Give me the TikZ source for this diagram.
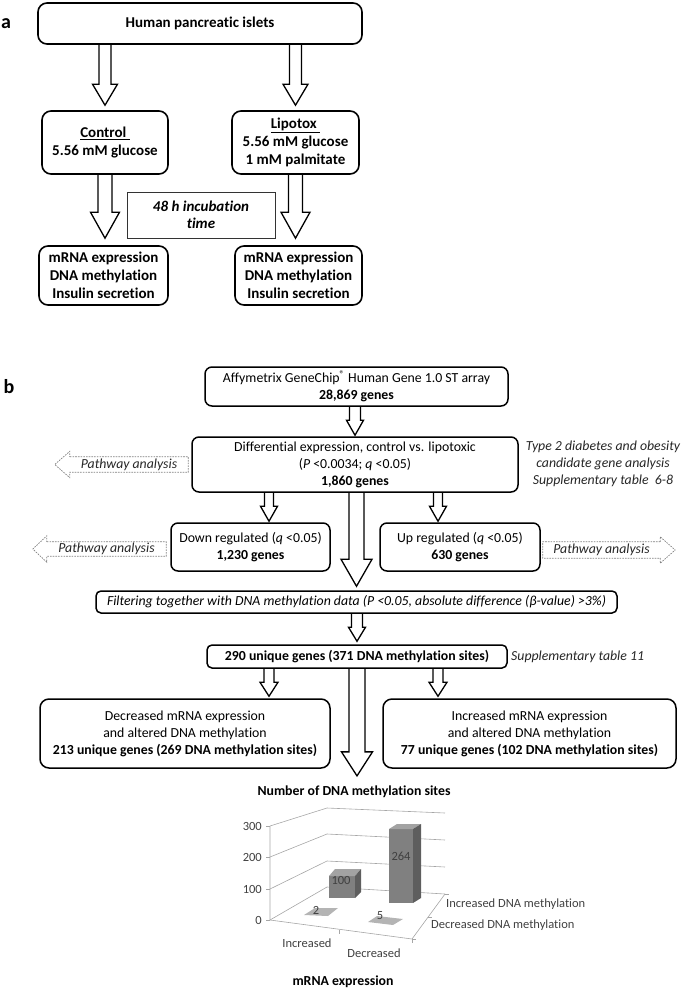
\documentclass[tikz,border=0pt]{standalone}
\usepackage{fontspec}
\setmainfont{Carlito}[Ligatures=NoCommon]
\usetikzlibrary{calc,backgrounds}
\definecolor{ink}      {HTML}{000000}
\definecolor{gridgray} {HTML}{A6A6A6}
\definecolor{dashgray} {HTML}{808080}
\definecolor{barfront} {HTML}{808080}
\definecolor{bartop}   {HTML}{A3A3A3}
\definecolor{barside}  {HTML}{5E5E5E}
\definecolor{tilegray} {HTML}{B4B4B4}
\definecolor{chartink} {HTML}{404040}
\tikzset{
  every node/.style={font=\fontsize{13.8}{17}\selectfont},
  % --- nodes
  panel/.style  = {inner sep=0pt, font=\fontsize{20}{24}\selectfont\bfseries},
  box/.style    = {draw=ink, line width=1.5pt, rounded corners=7pt, align=center, inner sep=0pt},
  boxa/.style   = {box, line width=1.6pt, rounded corners=9pt, font=\fontsize{15}{18}\selectfont\bfseries},
  timebox/.style= {draw=ink!80, line width=0.8pt, align=center, inner sep=0pt,
                   font=\fontsize{15}{17}\selectfont\bfseries\itshape},
  note/.style   = {align=center, inner sep=0pt, text=ink!85, font=\fontsize{13.8}{17}\selectfont\itshape},
  pwtext/.style = {inner sep=0pt, text=ink!85, font=\fontsize{13.8}{17}\selectfont\itshape},
  axlbl/.style  = {inner sep=0pt, text=chartink, font=\fontsize{12.5}{15}\selectfont},
  ctitle/.style = {inner sep=0pt, font=\fontsize{13.8}{17}\selectfont\bfseries},
  % --- edges
  fatarr/.style = {draw=ink, line width=1.3pt, fill=white, line join=miter},
  pwline/.style = {draw=dashgray, line width=0.7pt, dash pattern=on 1.6pt off 1.1pt},
  grid/.style   = {draw=gridgray, line width=0.6pt},
}
% from, to, column, gap, half shaft, half head, head length
\newcommand{\fatarrow}[7]{%
  \path (#1.south -| #3) coordinate (fa-s) (#2.north -| #3) coordinate (fa-e);
  \begin{scope}[on background layer]
    \draw[fatarr] ($(fa-s)+(-#5,0)$) -- ($(fa-e)+(-#5,-#4-#7)$) -- ($(fa-e)+(-#6,-#4-#7)$)
      -- ($(fa-e)+(0,-#4)$) -- ($(fa-e)+(#6,-#4-#7)$) -- ($(fa-e)+(#5,-#4-#7)$) -- ($(fa-s)+(#5,0)$);
  \end{scope}}
% node, head length, head extend
\newcommand{\pwleft}[3]{%
  \draw[pwline] (#1.north west) -- (#1.north east) -- (#1.south east) -- (#1.south west)
    -- ++(0,#3) -- ($(#1.west)+(-#2,0)$) -- ($(#1.north west)+(0,-#3)$) -- cycle;}
\newcommand{\pwright}[3]{%
  \draw[pwline] (#1.north east) -- (#1.north west) -- (#1.south west) -- (#1.south east)
    -- ++(0,#3) -- ($(#1.east)+(#2,0)$) -- ($(#1.north east)+(0,-#3)$) -- cycle;}

\begin{document}
\begin{tikzpicture}[x=1pt, y=-1pt]
  \useasboundingbox (0,0) rectangle (685,990);

  % panel a
  \node[panel] (pa) at (6,24) {a};
  \node[boxa, minimum width=324pt, minimum height=41pt] (islets) at (200,23.5) {Human pancreatic islets};
  \node[boxa, minimum width=126pt, minimum height=63pt] (ctrl) at (105,142.5) {\underline{Control\ }\\5.56 mM glucose};
  \node[boxa, minimum width=127pt, minimum height=63pt] (lipo) at (295.5,142.5) {\underline{Lipotox\ }\\5.56 mM glucose\\1 mM palmitate};
  \node[timebox, minimum width=148pt, minimum height=46pt] (incub) at (201,215) {48 h incubation\\time};
  \node[boxa, minimum width=129pt, minimum height=59pt] (outc) at (103.5,275.5) {mRNA expression\\DNA methylation\\Insulin secretion};
  \node[boxa, minimum width=127pt, minimum height=59pt] (outl) at (298.5,275.5) {mRNA expression\\DNA methylation\\Insulin secretion};

  \fatarrow{islets}{ctrl}{ctrl}{5}{6}{12.5}{21}
  \fatarrow{islets}{lipo}{lipo}{5}{6}{12.5}{21}
  \fatarrow{ctrl}{outc}{ctrl}{7}{7}{14.5}{26}
  \fatarrow{lipo}{outl}{lipo}{7}{7}{14.5}{26}

  % panel b
  \node[panel] (pb) at (9,387) {b};
  \coordinate (colL) at (269,0);
  \coordinate (colR) at (438,0);
  \node[box, minimum width=303pt, minimum height=39pt] (affy) at (356.5,386.5)
    {Affymetrix GeneChip\textsuperscript{®} Human Gene 1.0 ST array\\\textbf{28,869 genes}};
  \node[box, minimum width=326pt, minimum height=55pt] (diff) at (355,464.5)
    {Differential expression, control vs. lipotoxic\\(\textit{P} <0.0034; \textit{q} <0.05)\\\textbf{1,860 genes}};
  \node[box, minimum width=159pt, minimum height=48pt] (down) at (250.5,547)
    {Down regulated (\textit{q} <0.05)\\\textbf{1,230 genes}};
  \node[box, minimum width=160pt, minimum height=48pt] (up) at (460,547)
    {Up regulated (\textit{q} <0.05)\\\textbf{630 genes}};
  \node[box, rounded corners=5pt, minimum width=521pt, minimum height=22pt] (filter) at (356.5,602)
    {\itshape Filtering together with DNA methylation data (P <0.05, absolute difference (β-value) >3\%)};
  \node[box, rounded corners=5pt, minimum width=300pt, minimum height=23pt, font=\fontsize{13.8}{17}\selectfont\bfseries] (uniq) at (357,656.5)
    {290 unique genes (371 DNA methylation sites)};
  \node[box, rounded corners=9pt, minimum width=290pt, minimum height=69pt] (decr) at (185,733.5)
    {Decreased mRNA expression\\and altered DNA methylation\\\textbf{213 unique genes (269 DNA methylation sites)}};
  \node[box, rounded corners=9pt, minimum width=293pt, minimum height=69pt] (incr) at (529.5,733.5)
    {Increased mRNA expression\\and altered DNA methylation\\\textbf{77 unique genes (102 DNA methylation sites)}};

  \node[note] (t2d) at (603,464) {Type 2 diabetes and obesity\\candidate gene analysis\\Supplementary table\ \ 6-8};
  \node[note, anchor=west] (supp) at (511,657) {Supplementary table 11};

  \node[pwtext, minimum width=118pt, minimum height=15pt] (pw1) at (129,464.5) {Pathway analysis};
  \node[pwtext, minimum width=119pt, minimum height=14pt] (pw2) at (106.5,549) {Pathway analysis};
  \node[pwtext, minimum width=117pt, minimum height=16pt] (pw3) at (601.5,550) {Pathway analysis};
  \pwleft{pw1}{15}{5.5}
  \pwleft{pw2}{14}{6}
  \pwright{pw3}{15}{5}

  \node[ctitle] (ctitle) at (354,792) {Number of DNA methylation sites};

  \fatarrow{affy}{diff}{diff}{1}{5.5}{8.5}{15}
  \fatarrow{diff}{down}{colL}{1}{4.5}{8.5}{15}
  \fatarrow{diff}{up}{colR}{1}{4.5}{8.5}{15}
  \fatarrow{diff}{filter}{filter}{4}{7.5}{15.5}{27}
  \fatarrow{filter}{uniq}{uniq}{3}{5.5}{8.5}{14}
  \fatarrow{uniq}{decr}{colL}{2}{5}{9}{14}
  \fatarrow{uniq}{incr}{colR}{2}{5}{9}{14}
  \fatarrow{uniq}{ctitle}{uniq}{10}{8}{15.5}{24}

  % 3d chart
  \foreach \yf/\yb/\yr in {920/887/894, 889/861/867, 857/834/840, 826/808/813}
    \draw[grid] (270,\yf) -- (327,\yb) -- (445,\yr);
  \draw[grid] (270,826) -- (270,920) -- (412,939) -- (445,894);
  \foreach \yf in {826,857,889,920}
    \draw[grid] (266,\yf) -- (270,\yf);
  \foreach \p in {(339,930),(412,939)}
    \draw[grid] \p -- ++(0,4);
  \foreach \p in {(445,894),(428,917),(412,939)}
    \draw[grid] \p -- ++(4,0);

  \fill[tilegray] (304,915) -- (328,916) -- (338,908) -- (315,908) -- cycle;
  \fill[tilegray] (368,922) -- (393,925) -- (403,919) -- (377,916) -- cycle;
  \fill[barfront] (329,876) rectangle (355,898);
  \fill[bartop] (329,876) -- (355,876) -- (361,869) -- (335,869) -- cycle;
  \fill[barside] (355,876) -- (361,869) -- (361,892) -- (355,898) -- cycle;
  \fill[barfront] (389,829) rectangle (413,903);
  \fill[bartop] (389,829) -- (413,829) -- (421,824) -- (397,824) -- cycle;
  \fill[barside] (413,829) -- (421,824) -- (421,898) -- (413,903) -- cycle;

  \node[axlbl] (v100) at (341,880) {100};
  \node[axlbl] (v264) at (401,856) {264};
  \node[axlbl] (v2) at (316,910) {2};
  \node[axlbl] (v5) at (380,916) {5};
  \foreach \v/\y in {0/920,100/889,200/857,300/826}
    \node[axlbl, anchor=east] (ax\v) at (262,\y) {\v};
  \node[axlbl] (xinc) at (307,943) {Increased};
  \node[axlbl] (xdec) at (374,953) {Decreased};
  \node[axlbl, anchor=west] (zinc) at (446,904) {Increased DNA methylation};
  \node[axlbl, anchor=west] (zdec) at (431,925) {Decreased DNA methylation};
  \node[ctitle] (xtitle) at (343,982) {mRNA expression};
\end{tikzpicture}
\end{document}
